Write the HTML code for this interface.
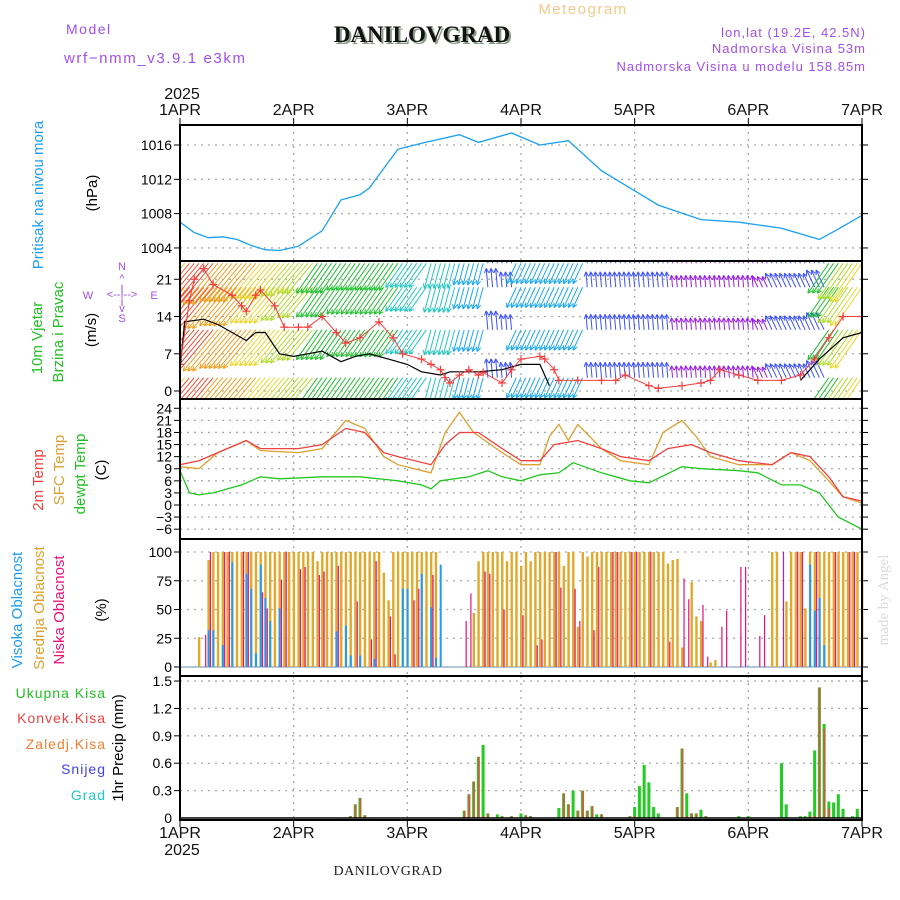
<!DOCTYPE html>
<html><head><meta charset="utf-8"><style>
body{margin:0;background:#fff;width:900px;height:900px;overflow:hidden}
svg{display:block}
text{font-family:"Liberation Sans",sans-serif}
text.serif{font-family:"Liberation Serif",serif}
.tk{font-size:14px;fill:#000;text-anchor:end}
.nar{font-family:"Liberation Sans Narrow","Liberation Sans",sans-serif}
</style></head><body>
<svg id="chart" width="900" height="900" viewBox="0 0 900 900">
<text x="66" y="34" font-size="14" fill="#a24ef0" letter-spacing="1.5">Model</text>
<text x="64" y="63" font-size="15" fill="#a24ef0" letter-spacing="1.6">wrf−nmm_v3.9.1 e3km</text>
<text class="serif" x="424" y="44" font-size="23" font-weight="bold" text-anchor="middle" fill="#8a9a8a">DANILOVGRAD</text>
<text class="serif" x="422" y="42" font-size="23" font-weight="bold" text-anchor="middle" fill="#111">DANILOVGRAD</text>
<text x="583" y="14" font-size="15" fill="#f5c98a" letter-spacing="1.5" text-anchor="middle">Meteogram</text>
<text x="866" y="37" font-size="13" fill="#a24ef0" letter-spacing="1" text-anchor="end">lon,lat (19.2E, 42.5N)</text>
<text x="866" y="53" font-size="13" fill="#a24ef0" letter-spacing="1" text-anchor="end">Nadmorska Visina 53m</text>
<text x="866" y="71" font-size="13" fill="#a24ef0" letter-spacing="1" text-anchor="end">Nadmorska Visina u modelu 158.85m</text>
<text class="serif" x="888" y="600" font-size="15" fill="#d8dcd8" text-anchor="middle" transform="rotate(-90 888 600)">made by Angel</text>
<text class="serif" x="388" y="875" font-size="14" text-anchor="middle" fill="#222" letter-spacing="0.5">DANILOVGRAD</text>
<g id="g"></g>
</svg>
<script>
// ---------- data ----------
const dayLabels=["1APR","2APR","3APR","4APR","5APR","6APR","7APR"];
const pressTicks=[1004,1008,1012,1016];
const windTicks=[0,7,14,21];
const tempTicks=[-6,-3,0,3,6,9,12,15,18,21,24];
const cloudTicks=[0,25,50,75,100];
const precTicks=[0.3,0.6,0.9,1.2,1.5];
const pressHours=[0,3,6,9,12,15,18,21,25,30,34,38,40,42,46,51,59,63,70,76,82,89,95,101,110,118,127,135,139,144];
const pressVals=[1007,1005.8,1005.2,1005.3,1005,1004.3,1003.8,1003.7,1004.2,1006,1009.6,1010.2,1011,1012.5,1015.5,1016.2,1017.2,1016.3,1017.4,1016,1016.5,1013,1011,1009,1007.3,1007,1006.3,1005,1006.2,1007.8];
const gustHours=[0,2,3,5,7,11,13,14,16,17,20,22,25,27,30,33,35,38,42,45,47,51,53,55,56,57,59,61,63,64,68,70,72,76,77,79,80,84,89,92,94,99,101,106,110,112,114,118,122,127,131,134,137,140,144];
const gustVals=[5,17,21,23,20,18,16,15,18,19,16,12,12,12,14,11,9,10,13,10,7,6,5,4,2.5,1.5,3,4,3,3.5,1.5,4,6,6.5,6,4,2,2,2,2,3,1,0.5,1,1.5,2,4,3,2,2,3,6,10,14,14];
const spdHours=[0,1,5,8,11,14,16,18,21,24,27,30,34,37,40,44,48,51,55,57,63,68,72,76,78,null,131,135,140,144];
const spdVals=[4,13,13.5,12.5,11,9.5,11,11,7,6.5,7,7.5,5.5,6.5,7,6,5,3.6,3,3.6,3.6,4,5,5,1,null,2,6,10,11];
const arrowSpd=[12,15,15,14,13,13,12,12,11,10,9,9,8,8,8,8,7,7,6,6,5,5,4,3,5,5,5,5,5,3,3,3,3,3,3,2,2,2,2,2,2,2,3,3,3,4,9,11,12];
const arrowDir=[130,130,130,130,130,130,130,130,130,130,125,125,125,125,125,125,125,125,105,105,105,105,265,265,115,115,115,115,115,265,265,265,265,265,265,265,265,265,265,265,265,245,245,245,245,245,125,125,125];
const arrowBands=[24,19.5,11.5,2.5];
const t2Hours=[0,4,8,14,17,25,30,35,39,43,46,53,56,59,63,68,72,76,79,84,89,93,99,103,108,112,118,125,129,133,137,140,144];
const t2Vals=[10,11,13,16,14,14,15,19,18,13,12,10,15,18,18,14,11,11,15,16,14,12,11,14,15,13,11,10,13,12,7,2,1];
const sfcHours=[0,4,8,14,17,25,30,35,39,43,46,53,56,59,62,68,72,76,78,80,82,84,89,93,99,102,106,109,112,118,125,129,133,137,140,144];
const sfcVals=[9.5,9,13,16,13.5,13,14,21,19,12,10,8,18,23,18,13,10,10,17,20,16,20,14,11,10,18,21,17,12,10,10,13,11,6,2,0.5];
const dewHours=[0,2,4,7,13,17,21,30,38,42,46,51,53,55,61,65,68,72,76,80,83,89,95,99,106,110,118,122,127,131,135,139,144];
const dewVals=[8.5,3,2.5,3,5,7,6.5,7,7,6.5,6,5,4,6,7,8.5,7,6,7.5,8,10.5,8,6,5.5,9.5,9,8.5,8,5,5,3,-3,-6];
const midCloud=[0,0,0,0,26,0,93,100,100,100,100,100,100,100,100,100,100,100,100,100,100,100,100,100,100,100,100,100,100,92,100,100,100,100,100,100,100,100,100,100,100,100,100,82,58,100,100,100,100,100,100,100,100,100,100,0,0,0,0,0,0,0,47,92,100,100,100,100,100,92,100,100,88,100,92,100,100,100,100,100,100,88,100,100,35,100,96,100,100,100,100,100,100,100,100,100,100,100,100,100,100,100,100,90,93,94,17,0,74,44,40,0,4,6,0,0,0,0,0,0,0,0,0,0,0,100,100,0,57,100,100,100,51,100,100,100,100,100,100,100,100,100,100,100,100,0];
const lowHours=[5,6,9,10,13,14,17,18,21,22,25,26,29,30,33,37,40,41,44,45,49,50,53,60,61,64,65,68,72,75,76,79,80,83,84,87,88,91,92,95,96,99,103,106,107,110,111,114,115,118,119,122,123,127,130,131,134,138,141,142];
const lowVals=[28,100,100,100,100,100,65,51,76,100,85,87,80,83,88,57,24,92,44,11,58,68,80,40,64,83,81,50,45,19,24,100,69,68,40,32,87,100,100,100,100,100,22,77,59,54,9,35,49,87,87,27,45,100,100,100,100,100,100,100];
const highHours=[6,7,9,11,14,15,16,17,18,19,21,33,35,36,38,41,47,48,51,53,54,55,133,134,135,136];
const highVals=[32,32,19,91,81,68,12,89,60,40,51,31,36,10,10,7,68,68,81,52,8,89,89,49,60,19];
const precHours=[36,37,38,39,60,61,62,63,64,65,67,68,70,72,73,74,80,81,82,83,84,85,86,87,88,89,95,96,97,98,99,100,101,105,106,107,108,109,110,111,118,120,127,128,131,132,133,134,135,136,137,138,139,140,142,143];
const precTotal=[0.02,0.15,0.22,0.03,0.08,0.26,0.4,0.67,0.8,0.05,0.04,0.02,0.02,0.05,0.03,0.02,0.11,0.27,0.15,0.3,0.08,0.3,0.08,0.13,0.04,0.04,0.02,0.12,0.35,0.58,0.39,0.12,0.05,0.12,0.76,0.27,0.05,0.05,0.09,0.02,0.02,0.02,0.6,0.15,0.02,0.02,0.07,0.74,1.43,1.03,0.18,0.17,0.26,0.1,0.02,0.1];
const precConv=[0.02,0.15,0.22,0.03,0.08,0.26,0.4,0.67,0.02,0.05,0,0.02,0.02,0,0.03,0.02,0,0.27,0.15,0.01,0.08,0.3,0.08,0.13,0,0.04,0.02,0.02,0,0,0,0,0,0.12,0.76,0.02,0.05,0.05,0,0.02,0,0,0,0,0,0,0.02,0.02,1.43,0.98,0.1,0,0,0,0,0];

// ---------- scales ----------
const X0=180,X1=862,NH=144;
const X=h=>X0+h*(X1-X0)/NH;
const Yp=v=>145+(1016-v)*8.58;
const Yw=v=>391-v*5.32;
const Yt=v=>505-v*4.03;
const Yc=v=>667-v*1.15;
const Yr=v=>818-v*91.3;
const panels=[[125,261],[261,399],[399,539],[539,676],[676,820]];
const NS="http://www.w3.org/2000/svg";
const g=document.getElementById('g');
function el(tag,attrs,parent){const e=document.createElementNS(NS,tag);for(const k in attrs)e.setAttribute(k,attrs[k]);(parent||g).appendChild(e);return e;}
function txt(x,y,s,cls,extra){const e=el('text',Object.assign({x:x,y:y,class:cls||''},extra||{}));e.textContent=s;return e;}

const defs=el('defs',{});
panels.forEach((p,i)=>{const c=el('clipPath',{id:'c'+i},defs);el('rect',{x:X0,y:p[0],width:X1-X0,height:p[1]-p[0]},c);});

function grid(pi,ticks,Y,fmt){
  const p=panels[pi];
  const gg=el('g',{});
  
  
  for(let d=1;d<6;d++){el('line',{x1:X(d*24),x2:X(d*24),y1:p[0],y2:p[1],stroke:'#aaa','stroke-width':1.3,'stroke-dasharray':'2,5'},gg);}
  ticks.forEach(v=>{const y=Y(v);
    el('line',{x1:X0,x2:X1,y1:y,y2:y,stroke:'#aaa','stroke-width':1.3,'stroke-dasharray':'2,5'},gg);
    el('line',{x1:X0-6,x2:X0,y1:y,y2:y,stroke:'#000','stroke-width':1},gg);
    el('line',{x1:X1,x2:X1+6,y1:y,y2:y,stroke:'#000','stroke-width':1},gg);
    const t=txt(X0-8,y+5,fmt?fmt(v):String(v),'tk',{});
    
    
  });
}
grid(0,pressTicks,Yp);grid(1,windTicks,Yw);grid(2,tempTicks,Yt,v=>v<0?'−'+(-v):String(v));grid(3,cloudTicks,Yc);grid(4,precTicks,Yr,v=>v.toFixed(1));
txt(X0-8,Yr(0)+5,'0','tk');

function line(hours,vals,Y,color,w,pi,name){
  let d='',pen=false;
  for(let i=0;i<hours.length;i++){if(hours[i]===null||vals[i]===null){pen=false;continue;}d+=(pen?'L':'M')+X(hours[i]).toFixed(1)+','+Y(vals[i]).toFixed(1);pen=true;}
  const p=el('path',{d:d,fill:'none',stroke:color,'stroke-width':w,'clip-path':'url(#c'+pi+')'});
  
  
  return p;
}
line(pressHours,pressVals,Yp,'#1aa0f0',1.3,0,'pressure-line');

const wg=el('g',{'clip-path':'url(#c1)'});


function spdColor(s){if(s<=2.5)return '#9a1ee6';if(s<=4)return '#3c50ff';if(s<=5.5)return '#18a8f0';if(s<=7)return '#20c8c0';if(s<=9)return '#22c030';if(s<=11)return '#b0dc28';if(s<=12.5)return '#e8d830';if(s<=14)return '#f0a020';return '#f05030';}
for(let h=0;h<=NH;h++){
  const i=Math.round(h/3),s=arrowSpd[i],a=arrowDir[i]*Math.PI/180,L=3.5*s+5,c=spdColor(s);
  arrowBands.forEach(b=>{
    const x0=X(h),y0=Yw(b),x1=x0+L*Math.cos(a),y1=y0+L*Math.sin(a);
    const ar=el('g',{},wg);
    
    
    el('line',{x1:x0,y1:y0,x2:x1,y2:y1,stroke:c,'stroke-width':1},ar);
    const hl=5;[0.45,-0.45].forEach(o=>{el('line',{x1:x1,y1:y1,x2:x1-hl*Math.cos(a+o),y2:y1-hl*Math.sin(a+o),stroke:c,'stroke-width':1},ar);});
  });
}
line(spdHours,spdVals,Yw,'#000',1.2,1,'wind-speed-line');
line(gustHours,gustVals,Yw,'#f04040',1,1,'wind-gust-line');
const gg2=el('g',{'clip-path':'url(#c1)'});


gustHours.forEach((h,i)=>{const x=X(h),y=Yw(gustVals[i]);const m=el('path',{d:`M${x-4},${y}H${x+4}M${x},${y-4}V${y+4}`,stroke:'#f04040','stroke-width':1.2},gg2);});

line(sfcHours,sfcVals,Yt,'#dca030',1.3,2,'sfc-temp-line');
line(t2Hours,t2Vals,Yt,'#f04040',1.3,2,'2m-temp-line');
line(dewHours,dewVals,Yt,'#20c820',1.3,2,'dewpoint-line');

el('line',{x1:X0,x2:X1,y1:Yc(0),y2:Yc(0),stroke:'#9ab8d0','stroke-width':1.5});
midCloud.forEach((v,h)=>{if(v<=0)return;const r=el('rect',{x:X(h)-1,y:Yc(v),width:2.4,height:Yc(0)-Yc(v),fill:'#e2a82a'});});
highHours.forEach((h,i)=>{const v=highVals[i];const r=el('rect',{x:X(h)-0.8,y:Yc(v),width:2,height:Yc(0)-Yc(v),fill:'#1e9ef0'});});
lowHours.forEach((h,i)=>{const v=lowVals[i];const r=el('rect',{x:X(h)+1.4,y:Yc(v),width:1.2,height:Yc(0)-Yc(v),fill:'#e8107a'});});

precHours.forEach((h,i)=>{const v=precTotal[i],c=precConv[i];
  const r=el('rect',{x:X(h)-1.5,y:Yr(v),width:3,height:Yr(0)-Yr(v),fill:'#22cc22'});
  if(c>0){const q=el('rect',{x:X(h)-0.5,y:Yr(c),width:1.6,height:Yr(0)-Yr(c),fill:'#f04848'});}
});
el('line',{x1:X0,x2:X1,y1:Yr(0),y2:Yr(0),stroke:'#000','stroke-width':1.5});

panels.forEach((p,i)=>{const r=el('rect',{x:X0,y:p[0],width:X1-X0,height:p[1]-p[0],fill:'none',stroke:'#000','stroke-width':2});});
dayLabels.forEach((s,d)=>{const x=X(d*24);
  el('line',{x1:x,x2:x,y1:118,y2:125,stroke:'#000'});el('line',{x1:x,x2:x,y1:820,y2:827,stroke:'#000'});
  const a=txt(x,115,s,'',{'font-size':16,'text-anchor':'middle',fill:'#111'});
  const b=txt(x,838,s,'',{'font-size':16,'text-anchor':'middle',fill:'#111'});
});
txt(182,99,'2025','',{'font-size':16,'text-anchor':'middle',fill:'#111'});
txt(182,855,'2025','',{'font-size':16,'text-anchor':'middle',fill:'#111'});

function rlab(x,y,s,c,size,name){const t=txt(x,y,s,'nar',{'font-size':size||15,fill:c,'text-anchor':'middle',transform:`rotate(-90 ${x} ${y})`});}
rlab(43,195,'Pritisak na nivou mora','#1e9ef0',15,'pressure-title');
rlab(97,193,'(hPa)','#000',15,'pressure-unit');
rlab(42,338,'10m Vjetar','#22c022',15,'wind-title-1');
rlab(63,332,'Brzina i Pravac','#22c022',15,'wind-title-2');
rlab(96,330,'(m/s)','#000',15,'wind-unit');
rlab(43,480,'2m Temp','#f04040',15,'temp2m-title');
rlab(64,470,'SFC Temp','#dca030',15,'sfc-temp-title');
rlab(85,474,'dewpt Temp','#22c022',15,'dewpt-title');
rlab(106,470,'(C)','#000',15,'temp-unit');
rlab(22,610,'Visoka Oblacnost','#1e9ef0',15,'high-cloud-title');
rlab(44,608,'Srednja Oblacnost','#dca030',15,'mid-cloud-title');
rlab(64,610,'Niska Oblacnost','#e8107a',15,'low-cloud-title');
rlab(106,610,'(%)','#000',15,'cloud-unit');
rlab(123,748,'1hr Precip (mm)','#000',15,'precip-title');
[['Ukupna Kisa','#22c022',698],['Konvek.Kisa','#f04040',723],['Zaledj.Kisa','#f08030',749],['Snijeg','#4040f0',774],['Grad','#20c8c8',800]].forEach(a=>{const t=txt(106,a[2],a[0],'',{'font-size':14,fill:a[1],'text-anchor':'end','letter-spacing':1});});
const cg=el('g',{fill:'#a24ef0','font-size':11});


[['N',122,270],['^',122,282],['I',122,292],['<--I-->',122,298],['I',122,306],['v',122,312],['S',122,322],['W',88,299],['E',154,299]].forEach(a=>{const t=txt(a[1],a[2],a[0],'',{'text-anchor':'middle'});cg.appendChild(t);});
</script>
</body></html>
